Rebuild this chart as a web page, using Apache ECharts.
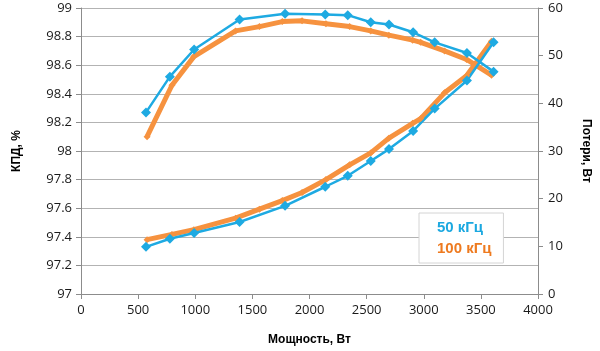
<!DOCTYPE html>
<html>
<head>
<meta charset="utf-8">
<script src="https://cdn.jsdelivr.net/npm/echarts@6/dist/echarts.min.js"></script>
<style>
  html, body { margin: 0; padding: 0; background: #fff; }
  #chart { width: 600px; height: 351px; }
</style>
</head>
<body>
<div id="chart"></div>
<script>
// 50 kHz
var power50 = [569, 778, 990, 1388, 1786, 2138, 2335, 2536, 2696, 2907, 3096, 3378, 3611];
var eff50 = [98.27, 98.52, 98.71, 98.92, 98.96, 98.955, 98.95, 98.90, 98.885, 98.83, 98.76, 98.685, 98.555];
var loss50 = [9.9, 11.6, 12.8, 15.1, 18.5, 22.5, 24.8, 27.9, 30.4, 34.2, 38.9, 44.8, 52.8];

// 100 kHz
var power100 = [578, 796, 988, 1353, 1562, 1762, 1935, 2144, 2351, 2536, 2695, 2903, 2973, 3182, 3375, 3593];
var eff100 = [98.10, 98.46, 98.66, 98.84, 98.87, 98.905, 98.91, 98.89, 98.87, 98.84, 98.81, 98.775, 98.76, 98.70, 98.64, 98.53];
var loss100 = [11.4, 12.5, 13.5, 15.9, 17.8, 19.6, 21.3, 24.0, 27.1, 29.6, 32.7, 35.8, 36.8, 42.2, 45.8, 53.0];

var names = ['50 кГц', '100 кГц'];
var blue = '#1eaae2';
var orange = '#f6923f';

function pairs(xs, ys) {
  return xs.map(function (x, i) { return [x, ys[i]]; });
}

var chart = echarts.init(document.getElementById('chart'), null, { renderer: 'canvas' });

var tickFont = { fontFamily: 'Open Sans', fontSize: 13, color: '#1a1a1a' };
var titleFont = { fontFamily: 'Liberation Sans', fontSize: 12, fontWeight: 'bold', color: '#000' };
var axisGray = '#8c8c8c';

var option = {
  animation: false,
  backgroundColor: '#fff',
  grid: { left: 81, right: 60, top: 8, bottom: 53 },
  legend: {
    orient: 'vertical',
    left: 419,
    top: 213,
    width: 82,
    icon: 'none',
    itemWidth: 0,
    itemHeight: 14,
    itemGap: 6,
    padding: [7, 12, 7, 13],
    backgroundColor: '#fff',
    borderColor: '#d4d4d4',
    borderWidth: 1,
    selectedMode: false,
    data: [
      { name: names[0], textStyle: { color: '#1ba8e0' } },
      { name: names[1], textStyle: { color: '#ee7a1f' } }
    ],
    textStyle: { fontFamily: 'Liberation Sans', fontSize: 15, fontWeight: 'bold', padding: [0, 0, 0, 0] }
  },
  xAxis: {
    type: 'value',
    min: 0,
    max: 4000,
    interval: 500,
    name: 'Мощность, Вт',
    nameLocation: 'middle',
    nameGap: 40,
    nameTextStyle: titleFont,
    axisLine: { show: true, lineStyle: { color: axisGray } },
    axisTick: { show: true, inside: false, length: 5, lineStyle: { color: axisGray } },
    axisLabel: Object.assign({ margin: 10, formatter: function (v) { return String(v); } }, tickFont),
    splitLine: { show: false }
  },
  yAxis: [
    {
      type: 'value',
      min: 97,
      max: 99,
      interval: 0.2,
      name: 'КПД, %',
      nameLocation: 'middle',
      nameRotate: 90,
      nameGap: 58,
      nameTextStyle: titleFont,
      axisLine: { show: true, lineStyle: { color: axisGray } },
      axisTick: { show: true, length: 5, lineStyle: { color: axisGray } },
      axisLabel: Object.assign({ margin: 9 }, tickFont),
      splitLine: { show: true, lineStyle: { color: '#b3b3b3', width: 1 } }
    },
    {
      type: 'value',
      min: 0,
      max: 60,
      interval: 10,
      position: 'right',
      name: 'Потери, Вт',
      nameLocation: 'middle',
      nameRotate: -90,
      nameGap: 42,
      nameTextStyle: titleFont,
      axisLine: { show: true, lineStyle: { color: axisGray } },
      axisTick: { show: true, length: 5, lineStyle: { color: axisGray } },
      axisLabel: Object.assign({ margin: 10 }, tickFont),
      splitLine: { show: false }
    }
  ],
  series: [
    {
      name: names[1],
      type: 'line',
      yAxisIndex: 0,
      data: pairs(power100, eff100),
      symbol: 'diamond',
      symbolSize: 7,
      color: orange,
      lineStyle: { color: orange, width: 5 },
      itemStyle: { color: orange }
    },
    {
      name: names[1],
      type: 'line',
      yAxisIndex: 1,
      data: pairs(power100, loss100),
      symbol: 'diamond',
      symbolSize: 7,
      color: orange,
      lineStyle: { color: orange, width: 5 },
      itemStyle: { color: orange }
    },
    {
      name: names[0],
      type: 'line',
      yAxisIndex: 0,
      data: pairs(power50, eff50),
      symbol: 'diamond',
      symbolSize: 10,
      color: blue,
      lineStyle: { color: blue, width: 2.5 },
      itemStyle: { color: blue }
    },
    {
      name: names[0],
      type: 'line',
      yAxisIndex: 1,
      data: pairs(power50, loss50),
      symbol: 'diamond',
      symbolSize: 10,
      color: blue,
      lineStyle: { color: blue, width: 2.5 },
      itemStyle: { color: blue }
    }
  ]
};

chart.setOption(option);
</script>
</body>
</html>
